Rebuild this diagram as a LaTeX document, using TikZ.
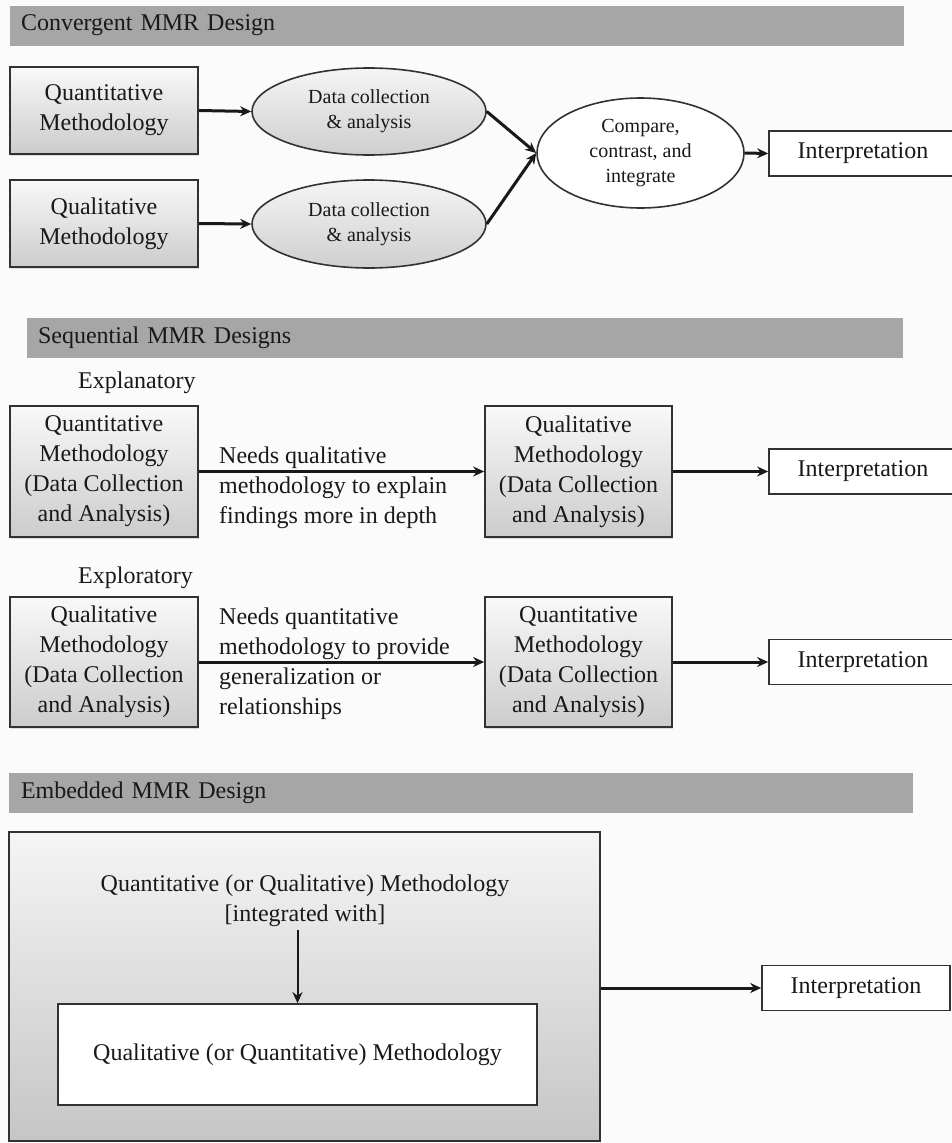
\documentclass[tikz,border=0pt]{standalone}
\usepackage{fontspec}
\setmainfont{Liberation Serif}
\usetikzlibrary{arrows.meta,shadows,shapes.geometric}
\definecolor{headgray}{RGB}{166,166,166}
\definecolor{bordergray}{RGB}{50,50,50}
\definecolor{bgc}{RGB}{251,251,251}
\definecolor{txt}{RGB}{25,25,25}
\newcommand\mfs{\fontsize{24}{30}\selectfont}
\newcommand\efs{\fontsize{20}{25}\selectfont}
\begin{document}
\begin{tikzpicture}[x=1pt,y=-1pt,
  header/.style={fill=headgray, minimum height=40pt, inner ysep=0pt, align=left, font=\mfs, text=txt},
  gbox/.style={draw=bordergray, line width=1.7pt, top color=gray!5, bottom color=gray!40, align=center, font=\mfs, text=txt, inner sep=0pt, minimum width=188pt, drop shadow={shadow xshift=1pt,shadow yshift=-2pt,opacity=0.25}},
  ell/.style={ellipse, draw=bordergray, line width=1.6pt, top color=gray!8, bottom color=gray!38, font=\efs, text=txt, align=center, inner sep=0pt, minimum width=234pt, minimum height=87pt},
  interp/.style={draw=bordergray, line width=1.7pt, fill=white, font=\mfs, text=txt, minimum width=188pt, minimum height=45pt, inner sep=0pt},
  arr/.style={-{Stealth[length=11pt,width=10pt]}, line width=3pt, txt},
  lbl/.style={font=\mfs, text=txt, align=left, inner sep=0pt, anchor=west}]
\useasboundingbox[fill=bgc] (0,0) rectangle (952,1143);

% ---------- Convergent ----------
\node[header, inner xsep=11pt, text width=872pt] (h1) at (457,25.5) {Convergent MMR Design};
\node[gbox, minimum height=87pt] (q1) at (104,110.5) {Quantitative\\Methodology};
\node[gbox, minimum height=87pt] (q2) at (104,223.5) {Qualitative\\Methodology};
\node[ell] (e1) at (369,111.5) {Data collection\\\& analysis};
\node[ell, minimum height=88pt] (e2) at (369,224) {Data collection\\\& analysis};
\node[ellipse, draw=bordergray, line width=1.6pt, fill=white, font=\efs, text=txt, align=center, inner sep=0pt, minimum width=207pt, minimum height=110pt] (cmp) at (640.5,153) {Compare,\\contrast, and\\integrate};
\node[interp] (i1) at (863,153.5) {Interpretation};
\draw[arr] (q1.east) -- (e1.west);
\draw[arr] (q2.east) -- (e2.west);
\draw[arr] (e1.east) -- (cmp.west);
\draw[arr] (e2.east) -- (cmp.west);
\draw[arr] (cmp.east) -- (i1.west);

% ---------- Sequential ----------
\node[header, inner xsep=11pt, text width=854pt] (h2) at (465,338) {Sequential MMR Designs};
\node[lbl] (expl) at (78,383) {Explanatory};
\node[gbox, minimum height=131pt] (A) at (104,471.5) {Quantitative\\Methodology\\(Data Collection\\and Analysis)};
\node[gbox, minimum height=131pt, minimum width=187pt] (B) at (578.5,471.5) {Qualitative\\Methodology\\(Data Collection\\and Analysis)};
\node[interp] (i2) at (863,471.5) {Interpretation};
\draw[arr] (A.east) -- (B.west);
\draw[arr] (B.east) -- (i2.west);
\node[lbl] (labA) at (219,488) {Needs qualitative\\methodology to explain\\findings more in depth};

\node[lbl] (expo) at (78,578) {Exploratory};
\node[gbox, minimum height=130pt] (C) at (104,662) {Qualitative\\Methodology\\(Data Collection\\and Analysis)};
\node[gbox, minimum height=130pt, minimum width=187pt] (D) at (578.5,662) {Quantitative\\Methodology\\(Data Collection\\and Analysis)};
\node[interp] (i3) at (863,662) {Interpretation};
\draw[arr] (C.east) -- (D.west);
\draw[arr] (D.east) -- (i3.west);
\node[lbl] (labC) at (219,664) {Needs quantitative\\methodology to provide\\generalization or\\relationships};

% ---------- Embedded ----------
\node[header, inner xsep=12pt, text width=880pt] (h3) at (461,793) {Embedded MMR Design};
\node[draw=bordergray, line width=1.7pt, top color=gray!8, bottom color=gray!45, minimum width=591pt, minimum height=309pt, inner sep=0pt] (big) at (304.5,986.5) {};
\node[font=\mfs, text=txt, align=center, inner sep=0pt] (tq) at (305,900.5) {Quantitative (or Qualitative) Methodology\\{}[integrated with]};
\node[draw=bordergray, line width=1.7pt, fill=white, minimum width=479pt, minimum height=101pt, font=\mfs, text=txt, inner sep=0pt] (inner) at (297.5,1054.5) {Qualitative (or Quantitative) Methodology};
\draw[arr, line width=2pt, shorten <=3pt] (inner.north |- tq.south) -- (inner.north);
\node[interp] (i4) at (856,988) {Interpretation};
\draw[arr] (i4.west -| big.east) -- (i4.west);
\end{tikzpicture}
\end{document}
